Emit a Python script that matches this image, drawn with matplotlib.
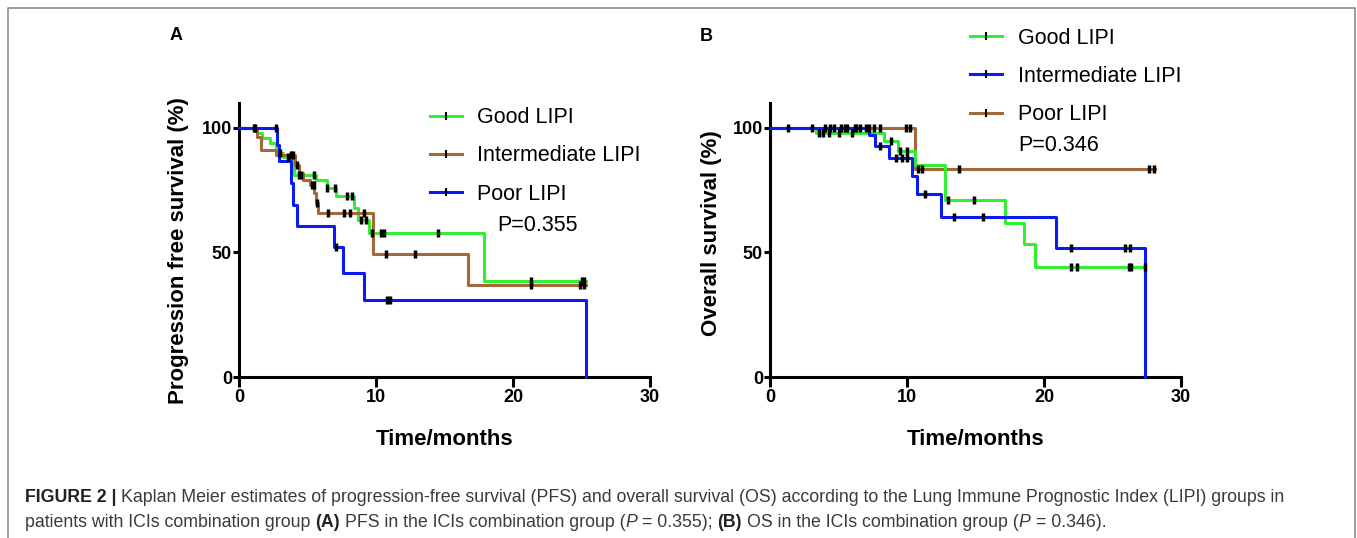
import numpy as np
import matplotlib
matplotlib.use('Agg')
import matplotlib.pyplot as plt
from matplotlib.lines import Line2D

plt.rcParams['font.family'] = ['Liberation Sans', 'DejaVu Sans']

W, H = 1357, 538
GREEN = '#33ee33'
BLUE = '#0a1af5'
BROWN = '#a26a3a'

x_ticks = [0, 10, 20, 30]
y_ticks = [0, 50, 100]

# ---------------- Panel A: PFS ----------------
a_good_t = [0, 1.35, 1.7, 2.26, 2.7, 3.2, 3.8, 4.05, 5.6, 6.4, 7.1, 8.4, 8.65, 9.46, 17.9]
a_good_s = [100, 98, 96, 94, 90, 88.5, 87, 81, 79, 76, 72.5, 68, 63, 58, 38.6]
a_good_end = 25.3
a_good_cens = [1.1, 3.0, 3.56, 4.4, 4.55, 5.5, 6.4, 7.0, 7.9, 8.25, 8.9, 9.3, 9.7, 10.4, 10.6, 14.5, 21.3, 25.0, 25.2]

a_int_t = [0, 1.35, 1.6, 2.7, 4.1, 4.4, 4.7, 5.2, 5.5, 5.6, 5.75, 9.8, 16.75]
a_int_s = [100, 96.5, 91.3, 89, 85, 82, 79, 77, 74, 70, 66, 49.4, 36.9]
a_int_end = 25.3
a_int_cens = [1.2, 3.8, 3.93, 4.2, 5.35, 5.45, 5.7, 6.5, 7.7, 8.1, 9.1, 10.7, 12.85, 21.3, 24.9, 25.2]

a_poor_t = [0, 2.78, 2.9, 3.8, 3.93, 4.2, 6.9, 7.6, 9.15, 25.3]
a_poor_s = [100, 93.3, 86.6, 77.8, 69, 60.7, 52.3, 41.6, 31.1, 0]
a_poor_end = 25.3
a_poor_cens = [2.7, 7.1, 10.8, 11.05]

# ---------------- Panel B: OS ----------------
b_good_t = [0, 3.37, 8.3, 9.35, 10.6, 12.8, 17.15, 18.55, 19.35]
b_good_s = [100, 98, 94.6, 90.6, 85.2, 70.9, 62, 53.3, 44.3]
b_good_end = 27.4
b_good_cens = [1.3, 3.6, 3.9, 4.3, 5.0, 6.0, 8.85, 9.5, 10.0, 13.0, 14.9, 22.0, 22.4, 26.2, 26.35, 27.4]

b_int_t = [0, 7.25, 7.7, 8.67, 10.4, 10.7, 12.5, 20.9, 27.4]
b_int_s = [100, 97.3, 92.6, 87.9, 80.5, 73.4, 64.2, 51.7, 0]
b_int_end = 27.4
b_int_cens = [4.4, 5.2, 5.6, 6.3, 6.6, 7.0, 8.0, 9.2, 9.6, 10.0, 11.3, 13.4, 15.56, 21.95, 25.9, 26.3]

b_poor_t = [0, 10.57]
b_poor_s = [100, 83.5]
b_poor_end = 28.1
b_poor_cens = [3.07, 4.0, 4.7, 5.5, 6.2, 7.25, 7.6, 8.0, 9.95, 10.2, 10.8, 11.1, 13.76, 27.7, 28.0]

labels = ['Good LIPI', 'Intermediate LIPI', 'Poor LIPI']
p_a = 'P=0.355'
p_b = 'P=0.346'


def km(ax, t, s, end, cens, color):
    tt = list(t) + [end]
    ss = list(s) + [s[-1]]
    ax.step(tt, ss, where='post', color=color, lw=2.2, zorder=3, clip_on=False)
    t_arr = np.array(t)
    s_arr = np.array(s)
    c = np.array(cens)
    idx = np.searchsorted(t_arr, c, side='right') - 1
    ax.plot(c, s_arr[idx], ls='none', marker='|', ms=5.5, mew=2.5,
            color='black', zorder=4, clip_on=False)


def style(ax, ylabel, ylab_xy):
    ax.set_xlim(0, 30)
    ax.set_ylim(0, 110)
    ax.set_xticks(x_ticks)
    ax.set_yticks(y_ticks)
    for sp in ['top', 'right']:
        ax.spines[sp].set_visible(False)
    for sp in ['left', 'bottom']:
        ax.spines[sp].set_linewidth(2.2)
    ax.tick_params(axis='x', length=7, width=2.2, labelsize=13, pad=2)
    ax.tick_params(axis='y', length=4, width=2.2, labelsize=13, pad=1)
    for lbl in ax.get_xticklabels() + ax.get_yticklabels():
        lbl.set_fontweight('bold')
    ax.set_xlabel('Time/months', fontsize=16, fontweight='bold')
    ax.xaxis.set_label_coords(0.5, -0.19)
    ax.set_ylabel(ylabel, fontsize=16, fontweight='bold')
    ax.yaxis.label.set_va('center')
    ax.yaxis.set_label_coords(*ylab_xy)


fig = plt.figure(figsize=(W / 100, H / 100), dpi=100)
ax1 = fig.add_axes([239 / W, 1 - 377 / H, 411 / W, 274 / H])
ax2 = fig.add_axes([770 / W, 1 - 377 / H, 411 / W, 274 / H])

km(ax1, a_good_t, a_good_s, a_good_end, a_good_cens, GREEN)
km(ax1, a_int_t, a_int_s, a_int_end, a_int_cens, BROWN)
km(ax1, a_poor_t, a_poor_s, a_poor_end, a_poor_cens, BLUE)

km(ax2, b_poor_t, b_poor_s, b_poor_end, b_poor_cens, BROWN)
km(ax2, b_good_t, b_good_s, b_good_end, b_good_cens, GREEN)
km(ax2, b_int_t, b_int_s, b_int_end, b_int_cens, BLUE)

style(ax1, 'Progression free survival (%)', (-0.148, 0.463))
style(ax2, 'Overall survival (%)', (-0.142, 0.526))


def handle(color):
    return Line2D([], [], color=color, lw=2.2, marker='|', ms=6, mew=1.5, mec='black')


leg_kw = dict(frameon=False, fontsize=15.5, handlelength=1.5, handletextpad=0.7,
              labelspacing=0.8, borderpad=0, borderaxespad=0, numpoints=1, loc='upper left')
ax1.legend([handle(GREEN), handle(BROWN), handle(BLUE)], labels,
           bbox_to_anchor=(0.465, 0.985), **leg_kw)
ax2.legend([handle(GREEN), handle(BLUE), handle(BROWN)], labels,
           bbox_to_anchor=(0.487, 1.275), **leg_kw)

ax1.text(0.628, 0.552, p_a, transform=ax1.transAxes, fontsize=15.5, va='center', ha='left')
ax2.text(0.603, 0.845, p_b, transform=ax2.transAxes, fontsize=15.5, va='center', ha='left')

fig.text(176 / W, 1 - 36 / H, 'A', fontsize=13, fontweight='bold', va='center', ha='center')
fig.text(706 / W, 1 - 37 / H, 'B', fontsize=13, fontweight='bold', va='center', ha='center')

# frame
fc = '#8c8c8c'
fig.add_artist(Line2D([8 / W, 8 / W, 1355 / W, 1355 / W], [0, 1 - 8 / H, 1 - 8 / H, 0],
                      transform=fig.transFigure, color=fc, lw=1.2))

# caption
fig.canvas.draw()
renderer = fig.canvas.get_renderer()
CAP = '#3a3a3a'


def draw_runs(x, y, runs, size):
    probe1 = fig.text(0, 0, 'x x', fontsize=size)
    probe2 = fig.text(0, 0, 'xx', fontsize=size)
    sp = probe1.get_window_extent(renderer).width - probe2.get_window_extent(renderer).width
    probe1.remove(); probe2.remove()
    for txt, kw in runs:
        if txt.startswith(' '):
            x += sp
            txt = txt[1:]
        t = fig.text(x / W, 1 - y / H, txt, fontsize=size, va='baseline', ha='left',
                     color=kw.get('color', CAP), fontweight=kw.get('weight', 'normal'),
                     fontstyle=kw.get('style', 'normal'))
        x += t.get_window_extent(renderer).width


cap_size = 12.8
line1 = [('FIGURE 2 |', {'weight': 'bold', 'color': '#222222'}),
         (' Kaplan Meier estimates of progression-free survival (PFS) and overall survival (OS) according to the Lung Immune Prognostic Index (LIPI) groups in', {})]
line2 = [('patients with ICIs combination group', {}),
         (' (A)', {'weight': 'bold', 'color': '#222222'}),
         (' PFS in the ICIs combination group (', {}),
         ('P', {'style': 'italic'}),
         (' = 0.355);', {}),
         (' (B)', {'weight': 'bold', 'color': '#222222'}),
         (' OS in the ICIs combination group (', {}),
         ('P', {'style': 'italic'}),
         (' = 0.346).', {})]
draw_runs(25, 502, line1, cap_size)
draw_runs(25, 527, line2, cap_size)

fig.savefig('out.png', dpi=100)
